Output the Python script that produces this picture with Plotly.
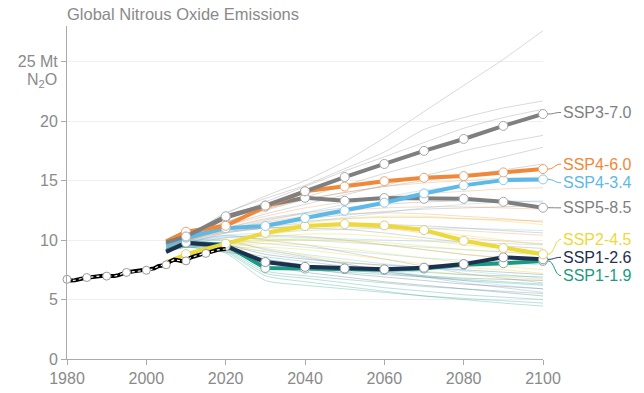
import plotly.graph_objects as go

# ---------------------------------------------------------------- data
HIST_YEARS = list(range(1980, 2021))
HIST_VALUES = [6.70, 6.60, 6.62, 6.72, 6.80, 6.85, 6.88, 6.93, 6.98, 7.00,
               6.97, 6.95, 6.98, 7.05, 7.20, 7.28, 7.33, 7.38, 7.40, 7.42,
               7.46, 7.50, 7.62, 7.80, 7.88, 7.92, 8.20, 8.35, 8.30, 8.22,
               8.25, 8.50, 8.62, 8.74, 8.82, 8.88, 9.00, 9.10, 9.18, 9.22, 9.25]
HIST_MARKER_YEARS = [1980, 1985, 1990, 1995, 2000, 2005, 2010, 2015]

SCEN_YEARS = [2005, 2010, 2020, 2030, 2040, 2050, 2060, 2070, 2080, 2090, 2100]

SSP3_70 = [9.8, 10.3, 12.0, 12.9, 14.1, 15.3, 16.4, 17.5, 18.5, 19.6, 20.6]
SSP4_60 = [9.9, 10.7, 11.2, 12.8, 14.1, 14.5, 14.95, 15.24, 15.38, 15.69, 15.97]
SSP4_34 = [9.6, 10.2, 11.0, 11.18, 11.85, 12.47, 13.14, 13.92, 14.6, 15.04, 15.1]
SSP5_85 = [9.7, 10.25, 11.9, 12.9, 13.55, 13.3, 13.53, 13.47, 13.47, 13.22, 12.72]
SSP2_45 = [8.1, 8.82, 9.7, 10.6, 11.18, 11.35, 11.23, 10.84, 9.94, 9.33, 8.8]
SSP1_26 = [9.0, 9.78, 9.5, 8.15, 7.75, 7.62, 7.54, 7.68, 7.98, 8.55, 8.38]
SSP1_19 = [9.1, 9.78, 9.6, 7.65, 7.6, 7.55, 7.5, 7.6, 7.92, 8.05, 8.25]

SCEN_NAMES = ["SSP1-1.9", "SSP1-2.6", "SSP2-4.5", "SSP5-8.5",
              "SSP4-3.4", "SSP4-6.0", "SSP3-7.0"]
SCEN_LABEL_Y = [7.0, 8.55, 10.06, 12.71, 14.82, 16.39, 20.73]

# individual model runs behind the marker scenarios
GRAY_RUNS = [
    [9.9, 10.3, 12.2, 13.7, 15.0, 16.6, 18.6, 20.8, 23.0, 25.2, 27.6],
    [9.8, 10.3, 12.3, 13.5, 14.6, 16.0, 17.4, 19.3, 20.3, 21.1, 21.7],
    [9.7, 10.2, 11.8, 13.2, 14.5, 15.8, 17.0, 18.2, 19.4, 20.3, 21.0],
    [9.6, 10.1, 11.5, 12.6, 13.6, 14.6, 15.6, 16.5, 17.5, 18.2, 18.8],
    [9.5, 10.0, 11.2, 12.2, 13.0, 13.8, 14.6, 15.4, 16.2, 17.0, 17.8],
    [9.6, 10.0, 11.4, 12.5, 13.4, 14.0, 14.5, 15.0, 15.4, 15.9, 16.4],
    [9.4, 9.9, 11.0, 11.8, 12.3, 12.7, 13.0, 13.2, 13.3, 13.3, 13.2],
    [9.3, 9.7, 10.6, 11.0, 11.2, 11.3, 11.3, 11.2, 11.0, 10.8, 10.6],
    [9.2, 9.6, 10.2, 10.4, 10.3, 10.0, 9.6, 9.2, 8.8, 8.5, 8.2],
    [9.3, 9.8, 10.4, 10.0, 9.6, 9.0, 8.4, 7.8, 7.2, 6.8, 6.4],
    [9.4, 9.9, 10.0, 9.2, 8.6, 8.0, 7.4, 6.9, 6.4, 6.0, 5.6],
    [9.5, 10.0, 10.9, 11.4, 11.8, 12.1, 12.4, 12.6, 12.7, 12.8, 12.9],
    [9.4, 9.9, 10.7, 11.0, 11.0, 10.9, 10.6, 10.2, 9.8, 9.5, 9.3],
]
ORANGE_RUNS = [
    [9.7, 10.5, 11.5, 12.6, 13.4, 14.0, 14.5, 14.8, 15.0, 15.2, 15.3],
    [9.6, 10.3, 11.2, 12.0, 12.7, 13.2, 13.6, 13.9, 14.1, 14.3, 14.4],
    [9.5, 10.2, 11.0, 11.7, 12.2, 12.5, 12.7, 12.8, 12.8, 12.7, 12.6],
    [9.4, 10.0, 10.8, 11.3, 11.6, 11.8, 11.9, 11.9, 11.8, 11.7, 11.6],
    [9.5, 10.1, 10.9, 11.5, 12.0, 12.2, 12.3, 12.2, 12.0, 11.8, 11.5],
    [9.3, 9.9, 10.6, 11.0, 11.1, 11.2, 11.1, 11.0, 10.8, 10.6, 10.4],
    [9.4, 10.0, 10.8, 11.2, 11.3, 11.2, 11.0, 10.6, 10.2, 9.9, 9.7],
]
BLUE_RUNS = [
    [9.5, 10.1, 10.9, 11.6, 12.3, 13.0, 13.6, 14.2, 14.6, 14.9, 15.0],
    [9.4, 10.0, 10.7, 11.1, 11.5, 11.9, 12.3, 12.7, 13.0, 13.2, 13.3],
    [9.3, 9.9, 10.4, 10.6, 10.8, 10.9, 11.0, 11.0, 11.0, 10.9, 10.8],
    [9.3, 9.8, 10.2, 10.1, 10.0, 9.8, 9.6, 9.4, 9.2, 9.0, 8.8],
    [9.2, 9.7, 10.0, 9.7, 9.4, 9.1, 8.8, 8.5, 8.3, 8.1, 7.9],
    [9.2, 9.6, 9.8, 9.3, 8.8, 8.4, 8.0, 7.7, 7.4, 7.1, 6.8],
    [9.1, 9.5, 9.6, 9.0, 8.5, 8.0, 7.5, 7.0, 6.6, 6.2, 5.9],
    [9.3, 9.8, 10.3, 10.3, 10.2, 10.1, 10.0, 9.9, 9.8, 9.7, 9.6],
]
YELLOW_RUNS = [
    [8.3, 8.8, 9.8, 10.7, 11.4, 11.8, 12.0, 12.0, 11.8, 11.6, 11.3],
    [8.3, 8.8, 9.7, 10.4, 10.9, 11.1, 11.0, 10.8, 10.4, 10.0, 9.6],
    [8.2, 8.7, 9.6, 10.2, 10.5, 10.5, 10.3, 10.0, 9.6, 9.3, 9.0],
    [8.2, 8.7, 9.5, 9.9, 10.0, 9.9, 9.6, 9.2, 8.8, 8.5, 8.2],
    [8.2, 8.6, 9.4, 9.7, 9.6, 9.3, 8.9, 8.5, 8.1, 7.8, 7.5],
    [8.1, 8.6, 9.3, 9.4, 9.2, 8.8, 8.4, 8.0, 7.7, 7.5, 7.2],
    [8.1, 8.5, 9.2, 9.1, 8.7, 8.2, 7.8, 7.4, 7.1, 6.9, 6.7],
    [8.2, 8.7, 9.6, 10.0, 10.1, 10.0, 9.8, 9.5, 9.2, 9.0, 8.7],
]
TEAL_RUNS = [
    [9.2, 9.6, 9.3, 7.7, 7.5, 7.3, 7.1, 6.9, 6.7, 6.5, 6.3],
    [9.2, 9.5, 9.2, 7.4, 7.0, 6.7, 6.4, 6.1, 5.9, 5.7, 5.5],
    [9.1, 9.5, 9.1, 7.2, 6.8, 6.4, 6.0, 5.7, 5.4, 5.2, 5.0],
    [9.1, 9.4, 9.0, 7.0, 6.5, 6.1, 5.7, 5.3, 5.0, 4.7, 4.45],
    [9.0, 9.4, 9.0, 8.4, 7.9, 7.5, 7.2, 6.9, 6.6, 6.4, 6.2],
    [9.1, 9.5, 9.2, 8.6, 8.2, 7.8, 7.5, 7.3, 7.1, 7.0, 6.9],
    [9.0, 9.4, 8.9, 6.6, 6.2, 5.9, 5.6, 5.3, 5.1, 4.9, 4.7],
]
NAVY_RUNS = [
    [9.2, 9.7, 9.4, 8.4, 7.9, 7.6, 7.3, 7.0, 6.8, 6.7, 6.6],
    [9.2, 9.6, 9.3, 8.1, 7.6, 7.2, 6.9, 6.6, 6.3, 6.1, 5.9],
    [9.1, 9.6, 9.2, 7.9, 7.3, 6.9, 6.5, 6.2, 5.9, 5.6, 5.3],
    [9.2, 9.7, 9.6, 8.8, 8.4, 8.1, 7.9, 7.7, 7.5, 7.3, 7.1],
]

Y_TICKS = [0, 5, 10, 15, 20, 25]
Y_TICK_TEXT = ["0", "5", "10", "15", "20", "25 Mt"]
X_TICKS = [1980, 2000, 2020, 2040, 2060, 2080, 2100]

# ---------------------------------------------------------------- styling
GRAY = "#7f7f7f"
ORANGE = "#f0883a"
BLUE = "#5cb9e8"
YELLOW = "#ecd93c"
NAVY = "#1e2f4f"
TEAL = "#1c9a80"
TEXT = "#8a8a8a"
FONT = "Liberation Sans, Arial, sans-serif"

SCEN_VALUES = [SSP1_19, SSP1_26, SSP2_45, SSP5_85, SSP4_34, SSP4_60, SSP3_70]
SCEN_COLORS = [TEAL, NAVY, YELLOW, GRAY, BLUE, ORANGE, GRAY]
# marker rims are a softer tint of each line colour
SCEN_RIMS = ["#7fb3a6", "#8a95a8", "#e0cf70", "#a8a8a8", "#8ccbea", "#f0a470", "#a8a8a8"]

RUN_GROUPS = [
    (GRAY_RUNS, "rgba(160,160,160,0.40)"),
    (ORANGE_RUNS, "rgba(240,136,58,0.30)"),
    (BLUE_RUNS, "rgba(92,185,232,0.30)"),
    (YELLOW_RUNS, "rgba(236,217,60,0.40)"),
    (TEAL_RUNS, "rgba(28,154,128,0.30)"),
    (NAVY_RUNS, "rgba(70,90,130,0.30)"),
]

fig = go.Figure()

# faint ensemble lines
for runs, col in RUN_GROUPS:
    for run in runs:
        fig.add_trace(go.Scatter(
            x=SCEN_YEARS, y=run, mode="lines",
            line=dict(color=col, width=1, shape="spline", smoothing=0.6),
            hoverinfo="skip", showlegend=False))

# marker scenarios (first point has no marker)
sizes = [0] + [9] * (len(SCEN_YEARS) - 1)
for vals, col, rim, name in zip(SCEN_VALUES, SCEN_COLORS, SCEN_RIMS, SCEN_NAMES):
    fig.add_trace(go.Scatter(
        x=SCEN_YEARS, y=vals, mode="lines+markers", name=name,
        line=dict(color=col, width=4),
        marker=dict(size=sizes, color="white", opacity=1,
                    line=dict(color=rim, width=1)),
        cliponaxis=False, showlegend=False))

# historical emissions
fig.add_trace(go.Scatter(
    x=HIST_YEARS, y=HIST_VALUES, mode="lines",
    line=dict(color="black", width=4), showlegend=False, hoverinfo="skip"))
fig.add_trace(go.Scatter(
    x=HIST_YEARS, y=HIST_VALUES, mode="lines",
    line=dict(color="white", width=1.2, dash="dot"),
    showlegend=False, hoverinfo="skip"))
hist_lookup = dict(zip(HIST_YEARS, HIST_VALUES))
fig.add_trace(go.Scatter(
    x=HIST_MARKER_YEARS, y=[hist_lookup[y] for y in HIST_MARKER_YEARS],
    mode="markers", cliponaxis=False, showlegend=False,
    marker=dict(size=8, color="white", opacity=1,
                line=dict(color="#999", width=1))))

# end labels with curved leader lines
plot_w = 644 - 67 - 101
x0 = 1 + 5 / plot_w
x1 = 1 + 18 / plot_w
xm = (x0 + x1) / 2
for vals, col, name, ly in zip(SCEN_VALUES, SCEN_COLORS, SCEN_NAMES, SCEN_LABEL_Y):
    y0 = vals[-1]
    fig.add_shape(type="path", xref="paper", yref="y",
                  path=f"M {x0},{y0} C {xm},{y0} {xm},{ly} {x1},{ly}",
                  line=dict(color=col, width=1))
    fig.add_annotation(xref="paper", yref="y", x=1 + 18 / plot_w, y=ly,
                       text=name, showarrow=False, xanchor="left",
                       yanchor="middle",
                       font=dict(size=16, color=col, family=FONT))

# title and unit
fig.add_annotation(xref="paper", yref="paper", x=0, y=1 + 12 / 333,
                   xshift=-2, text="Global Nitrous Oxide Emissions",
                   showarrow=False, xanchor="left", yanchor="middle",
                   font=dict(size=16.5, color=TEXT, family=FONT))
fig.add_annotation(xref="paper", yref="y", x=0, y=25, xshift=-8, yshift=-19,
                   text="N<sub>2</sub>O", showarrow=False,
                   xanchor="right", yanchor="middle",
                   font=dict(size=16, color=TEXT, family=FONT))

fig.update_layout(
    width=644, height=393,
    margin=dict(l=67, r=101, t=26, b=34, autoexpand=False),
    paper_bgcolor="white", plot_bgcolor="white",
    font=dict(family=FONT, color=TEXT, size=16),
    xaxis=dict(range=[1980, 2100], tickvals=X_TICKS, showgrid=False,
               zeroline=False, showline=True, linecolor="#aaaaaa",
               ticks="outside", ticklen=5, tickcolor="#aaaaaa",
               automargin=False, tickfont=dict(size=16, color=TEXT)),
    yaxis=dict(range=[0, 28], tickvals=Y_TICKS, ticktext=Y_TICK_TEXT,
               showgrid=True, gridcolor="#efefef", zeroline=False,
               showline=True, linecolor="#aaaaaa", ticks="outside",
               ticklen=5, tickcolor="#aaaaaa", automargin=False,
               tickfont=dict(size=16, color=TEXT)),
)

fig.write_html("out.html")
